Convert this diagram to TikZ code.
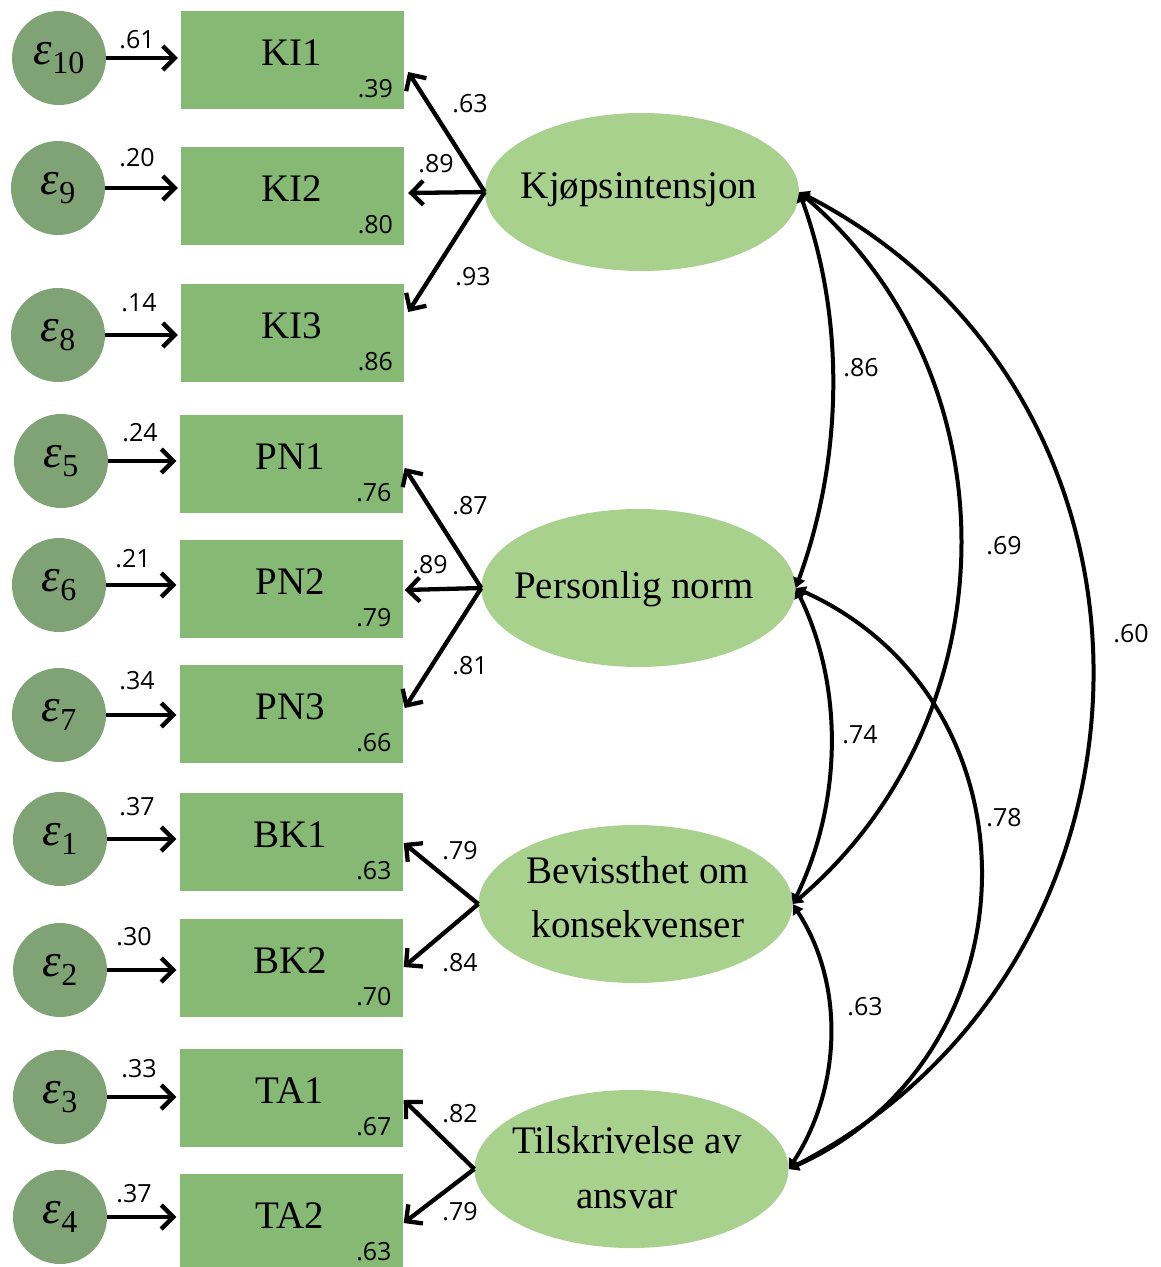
\documentclass[tikz,border=0pt]{standalone}
\usepackage{fontspec}
\setmainfont{Liberation Serif}
\newfontfamily\numfont{Open Sans}
\usetikzlibrary{arrows.meta,shapes.geometric,calc}
\definecolor{errcol}{RGB}{127,163,117}
\definecolor{boxcol}{RGB}{134,185,116}
\definecolor{latcol}{RGB}{169,209,142}
\newcommand\epsnode[1]{\textit{ε}\raisebox{-9pt}{\fontsize{32}{32}\selectfont #1}}
\begin{document}
\begin{tikzpicture}[x=1pt,y=1pt,
 errnode/.style={circle,fill=errcol,minimum size=94pt,inner sep=0pt,font=\fontsize{47}{47}\selectfont},
 obsbox/.style={rectangle,fill=boxcol,minimum width=223pt,minimum height=98pt,inner sep=0pt},
 obstext/.style={anchor=base,font=\fontsize{39}{39}\selectfont,inner sep=0pt},
 r2text/.style={anchor=base east,font=\numfont\fontsize{25}{25}\selectfont,inner sep=0pt},
 coef/.style={font=\numfont\fontsize{25}{25}\selectfont,inner sep=0pt},
 latnode/.style={ellipse,fill=latcol,minimum width=314pt,minimum height=158pt,inner sep=0pt},
 lattext/.style={anchor=base,font=\fontsize{39}{39}\selectfont,inner sep=0pt},
 errarrow/.style={line width=4.3pt,-{Straight Barb[length=12pt,width=24pt]},shorten >=3pt},
 loadarrow/.style={line width=4.3pt,-{Straight Barb[length=12pt,width=24pt]}},
 corrarrow/.style={line width=4pt,{Triangle[length=10pt,width=12pt]}-{Triangle[length=10pt,width=12pt]}}
]
\useasboundingbox (0,0) rectangle (1161,-1267);

% error terms
\node[errnode] (e10) at (59,-58) {\epsnode{10}};
\node[errnode] (e9) at (58,-188) {\epsnode{9}};
\node[errnode] (e8) at (58,-335) {\epsnode{8}};
\node[errnode] (e5) at (61,-461) {\epsnode{5}};
\node[errnode] (e6) at (59,-585) {\epsnode{6}};
\node[errnode] (e7) at (59,-715) {\epsnode{7}};
\node[errnode] (e1) at (60,-839) {\epsnode{1}};
\node[errnode] (e2) at (60,-970) {\epsnode{2}};
\node[errnode] (e3) at (60,-1097) {\epsnode{3}};
\node[errnode] (e4) at (60,-1217) {\epsnode{4}};

% observed boxes
\node[obsbox] (KI1) at (292.5,-59.5) {};
\node[obsbox] (KI2) at (292.5,-196) {};
\node[obsbox] (KI3) at (292.5,-333) {};
\node[obsbox] (PN1) at (291,-463.5) {};
\node[obsbox] (PN2) at (291,-588.5) {};
\node[obsbox] (PN3) at (291,-713.5) {};
\node[obsbox] (BK1) at (291,-841.5) {};
\node[obsbox] (BK2) at (291,-968) {};
\node[obsbox] (TA1) at (291,-1097.5) {};
\node[obsbox,minimum height=93pt] (TA2) at (291,-1220.5) {};

\foreach \b/\t/\r in {KI1/KI1/.39,KI2/KI2/.80,KI3/KI3/.86,PN1/PN1/.76,PN2/PN2/.79,PN3/PN3/.66,BK1/BK1/.63,BK2/BK2/.70,TA1/TA1/.67,TA2/TA2/.63}{
  \node[obstext] (\b-t) at ($(\b.north)+(-1,-55)$) {\t};
  \node[r2text] (\b-r) at ($(\b.north east)+(-11,-87)$) {\r};
}

% latent variables
\node[latnode] (K) at (642,-192) {};
\node[latnode] (P) at (638.5,-588) {};
\node[latnode] (B) at (635.5,-904) {};
\node[latnode] (T) at (631.5,-1169) {};
\node[lattext] (K-t) at (639,-198) {Kjøpsintensjon};
\node[lattext] (P-t) at (634,-598) {Personlig norm};
\node[lattext] (B-t1) at (638,-883) {Bevissthet om};
\node[lattext] (B-t2) at (638,-937) {konsekvenser};
\node[lattext] (T-t1) at (627,-1153) {Tilskrivelse av};
\node[lattext] (T-t2) at (627,-1208) {ansvar};

% error arrows
\foreach \e/\b in {e10/KI1,e9/KI2,e8/KI3,e5/PN1,e6/PN2,e7/PN3,e1/BK1,e2/BK2,e3/TA1,e4/TA2}{
  \draw[errarrow] (\e.east) -- (\e.east -| \b.west);
}
\node[coef] (c-e10) at (137,-40) {.61};
\node[coef] (c-e9) at (137,-158) {.20};
\node[coef] (c-e8) at (139,-303) {.14};
\node[coef] (c-e5) at (140,-433) {.24};
\node[coef] (c-e6) at (133,-559) {.21};
\node[coef] (c-e7) at (137,-681) {.34};
\node[coef] (c-e1) at (137,-807) {.37};
\node[coef] (c-e2) at (134,-937) {.30};
\node[coef] (c-e3) at (139,-1069) {.33};
\node[coef] (c-e4) at (134,-1194) {.37};

% loadings
\draw[loadarrow] (K.west) -- ($(KI1.east)+(4,-12.5)$);
\draw[loadarrow] (K.west) -- ($(KI2.east)+(4,3)$);
\draw[loadarrow] (K.west) -- ($(KI3.east)+(4,21)$);
\draw[loadarrow] (P.west) -- ($(PN1.east)+(2,-4.5)$);
\draw[loadarrow] (P.west) -- ($(PN2.east)+(2,-1.5)$);
\draw[loadarrow] (P.west) -- ($(PN3.east)+(2,5.5)$);
\draw[loadarrow] (B.west) -- ($(BK1.east)+(1,-1.5)$);
\draw[loadarrow] (B.west) -- ($(BK2.east)+(1,1)$);
\draw[loadarrow] (T.west) -- ($(TA1.east)+(1,-2.5)$);
\draw[loadarrow] (T.west) -- ($(TA2.east)+(1,-2.5)$);
\node[coef] (l-KI1) at (470,-104) {.63};
\node[coef] (l-KI2) at (436,-164) {.89};
\node[coef] (l-KI3) at (473,-277) {.93};
\node[coef] (l-PN1) at (470,-506) {.87};
\node[coef] (l-PN2) at (430,-565) {.89};
\node[coef] (l-PN3) at (470,-666) {.81};
\node[coef] (l-BK1) at (460,-851) {.79};
\node[coef] (l-BK2) at (460,-963) {.84};
\node[coef] (l-TA1) at (460,-1114) {.82};
\node[coef] (l-TA2) at (460,-1212) {.79};

% correlations
\draw[corrarrow] (K.east) to[out=-70,in=70,looseness=0.88] (P.east);
\draw[corrarrow] (K.east) to[out=-40.5,in=40.5,looseness=1.03] (B.east);
\draw[corrarrow] (K.east) to[out=-27.3,in=27.3,looseness=1.167] (T.east);
\draw[corrarrow] (P.east) to[out=-64,in=64,looseness=0.9] (B.east);
\draw[corrarrow] (P.east) to[out=-24.3,in=24.3,looseness=1.207] (T.east);
\draw[corrarrow] (B.east) to[out=-57,in=57,looseness=0.93] (T.east);
\node[coef] (r-KP) at (861,-368) {.86};
\node[coef] (r-KB) at (1004,-546) {.69};
\node[coef] (r-KT) at (1131,-634) {.60};
\node[coef] (r-PB) at (860,-735) {.74};
\node[coef] (r-PT) at (1004,-818) {.78};
\node[coef] (r-BT) at (865,-1007) {.63};
\end{tikzpicture}
\end{document}
